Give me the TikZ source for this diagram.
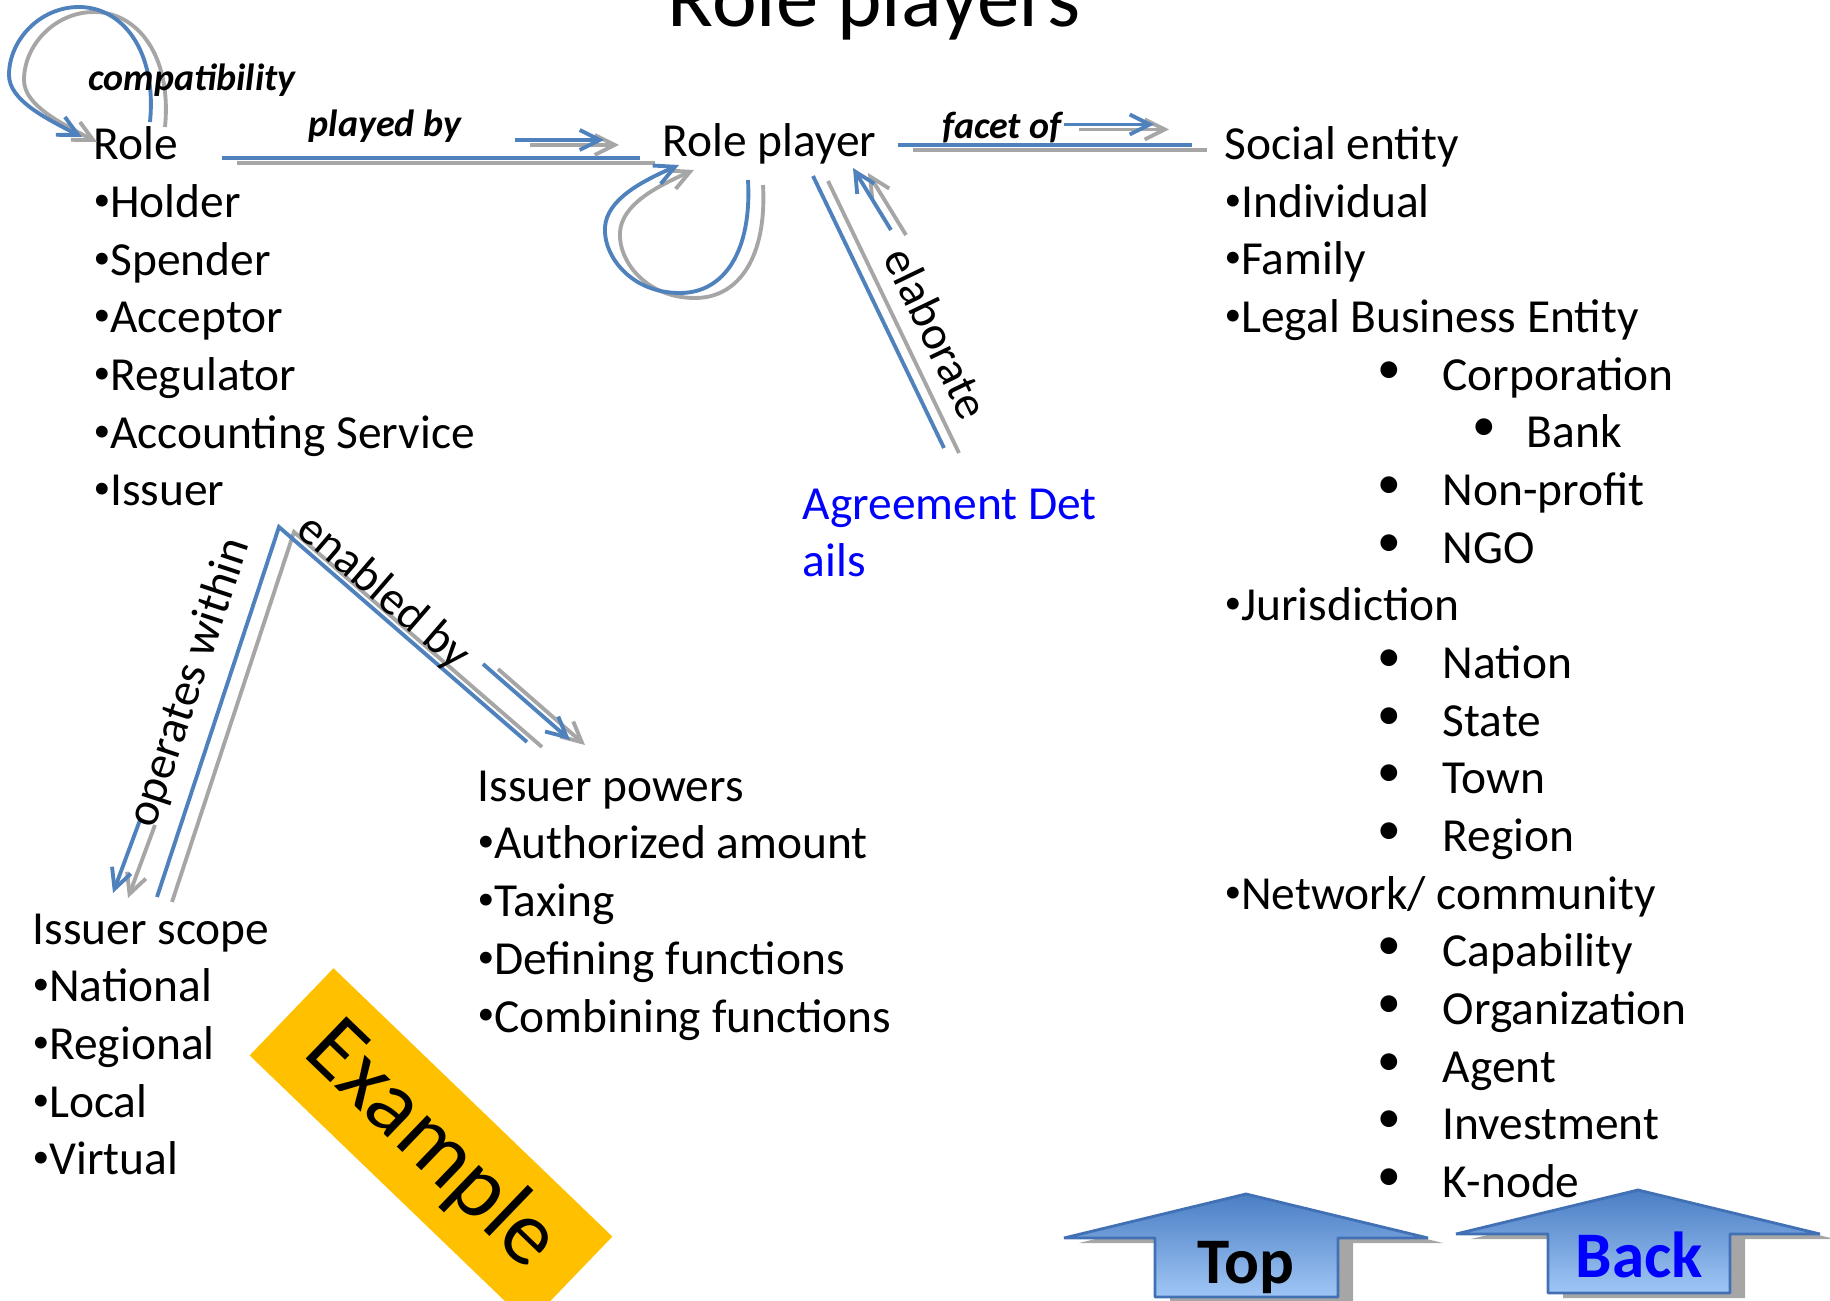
\documentclass[tikz,border=0pt]{standalone}
\usepackage{fontspec}
\setmainfont{Carlito}
\usetikzlibrary{arrows.meta}
\definecolor{linkblue}{RGB}{79,129,189}
\definecolor{shadegray}{RGB}{166,166,166}
\definecolor{hrefblue}{RGB}{0,0,255}
\definecolor{exorange}{RGB}{255,192,0}
\definecolor{btntop}{RGB}{74,126,196}
\definecolor{btnbot}{RGB}{160,198,245}
\definecolor{btnedge}{RGB}{65,113,180}
\tikzset{>={Straight Barb[length=2mm,width=2mm]}}
\tikzset{lst/.style={inner sep=0pt,anchor=base west,align=left,font=\fontsize{13.5}{16.41}\selectfont}}
\tikzset{lbl/.style={inner sep=0pt,font=\fontsize{13.5}{16}\selectfont}}
\tikzset{rel/.style={inner sep=0pt,anchor=base,font=\fontsize{10.8}{13}\selectfont\bfseries\itshape}}
\tikzset{link/.style={draw=linkblue,line width=1.1pt,preaction={draw=shadegray,line width=1.1pt,transform canvas={xshift=1.5mm,yshift=-0.5mm}}}}
\tikzset{btn/.style={inner sep=0pt,anchor=base,font=\fontsize{18.5}{22}\selectfont\bfseries}}
\tikzset{btnshape/.style={draw=btnedge,line width=0.8pt,line join=bevel,top color=btntop,bottom color=btnbot}}
\newcommand{\bul}{\raisebox{2pt}{\fontsize{9.5}{9.5}\selectfont\textbullet}}
\newcommand{\subA}[1]{\hspace*{1.53cm}\makebox[0.65cm][l]{\raisebox{2pt}{\textbullet}}#1}
\newcommand{\subB}[1]{\hspace*{2.48cm}\makebox[0.54cm][l]{\raisebox{2pt}{\textbullet}}#1}

\begin{document}
\begin{tikzpicture}[x=0.1mm,y=-0.1mm]
\useasboundingbox (0,0) rectangle (1830,1301);
\clip (0,0) rectangle (1830,1301);

\node[inner sep=0pt,anchor=base west,font=\fontsize{24.1}{28}\selectfont] (title) at (667,27) {Role players};

% the lists (anchored at the baseline of their last line)
\node[lst] (roles) at (93,506) {Role\\\bul Holder\\\bul Spender\\\bul Acceptor\\\bul Regulator\\\bul Accounting Service\\\bul Issuer};
\node[lst] (player) at (662,157) {Role player};
\node[lst] (social) at (1224,1197.5) {Social entity\\\bul Individual\\\bul Family\\\bul Legal Business Entity\\\subA{Corporation}\\\subB{Bank}\\\subA{Non-profit}\\\subA{NGO}\\\bul Jurisdiction\\\subA{Nation}\\\subA{State}\\\subA{Town}\\\subA{Region}\\\bul Network/ community\\\subA{Capability}\\\subA{Organization}\\\subA{Agent}\\\subA{Investment}\\\subA{K-node}};
\node[lst,text=hrefblue] (agree) at (802,576.8) {Agreement Det\\ails};
\node[lst] (powers) at (477,1032) {Issuer powers\\\bul Authorized amount\\\bul Taxing\\\bul Defining functions\\\bul Combining functions};
\node[lst] (scope) at (32,1174.8) {Issuer scope\\\bul National\\\bul Regional\\\bul Local\\\bul Virtual};

\node[fill=exorange,inner sep=0pt,minimum width=3.87cm,minimum height=1.21cm,rotate=-43.9,font=\fontsize{26}{30}\selectfont] (example) at (431,1146) {Example};

% compatibility loop
\coordinate (compA) at (150,122);
\coordinate (compTop) at (79,7);
\coordinate (compLeft) at (9,75);
\coordinate (compB) at (82,137);
\draw[link,->] (compA) .. controls (157,50) and (122,7) .. (compTop) .. controls (40,7) and (9,40) .. (compLeft) .. controls (9,100) and (45,118) .. (compB);
\node[rel] (compat) at (192,91) {compatibility};

% played by
\coordinate (pbA) at (222,158);
\coordinate (pbB) at (640,158);
\coordinate (pbC) at (515,140);
\coordinate (pbD) at (604,140);
\draw[link] (pbA) -- (pbB);
\draw[link,->] (pbC) -- (pbD);
\node[rel] (playedby) at (385,137) {played by};

% loop under role player
\coordinate (loopA) at (748,180);
\coordinate (loopBot) at (680,293);
\coordinate (loopLeft) at (605,227);
\coordinate (loopB) at (679,165);
\draw[link,->] (loopA) .. controls (752,250) and (725,293) .. (loopBot) .. controls (630,293) and (603,255) .. (loopLeft) .. controls (607,200) and (640,182) .. (loopB);

% facet of
\coordinate (fcA) at (898,145);
\coordinate (fcB) at (1192,145);
\coordinate (fcC) at (1064,124.5);
\coordinate (fcD) at (1154,124.5);
\draw[link] (fcA) -- (fcB);
\draw[link,->] (fcC) -- (fcD);
\node[rel] (facetof) at (1002,139) {facet of};

% elaborate
\coordinate (elA) at (944,448);
\coordinate (elB) at (813,176);
\coordinate (elC) at (891,230);
\coordinate (elD) at (853,168);
\draw[link] (elA) -- (elB);
\draw[link,->] (elC) -- (elD);
\node[lbl,rotate=-64.3] (elab) at (937,333) {elaborate};

% operates within / enabled by
\coordinate (issuertip) at (279,527);
\coordinate (owB) at (157,897);
\coordinate (owC) at (140,820);
\coordinate (owD) at (113,893);
\coordinate (ebB) at (527,742);
\coordinate (ebC) at (483,664);
\coordinate (ebD) at (570,740);
\draw[link] (owB) -- (issuertip) -- (ebB);
\draw[link,->] (owC) -- (owD);
\draw[link,->] (ebC) -- (ebD);
\node[lbl,rotate=71.6] (opwithin) at (190,683) {operates within};
\node[lbl,rotate=-40.8] (enabledby) at (383,593) {enabled by};

% buttons
\fill[shadegray,shift={(15,5)}] (1064,1238) -- (1246,1194) -- (1428,1238) -- (1338,1238) -- (1338,1297) -- (1155,1297) -- (1155,1238) -- cycle;
\draw[btnshape] (1064,1238) -- (1246,1194) -- (1428,1238) -- (1338,1238) -- (1338,1297) -- (1155,1297) -- (1155,1238) -- cycle;
\node[btn] (toplink) at (1246,1283) {Top};

\fill[shadegray,shift={(15,5)}] (1456,1234) -- (1638,1190) -- (1820,1234) -- (1730,1234) -- (1730,1293) -- (1548,1293) -- (1548,1234) -- cycle;
\draw[btnshape] (1456,1234) -- (1638,1190) -- (1820,1234) -- (1730,1234) -- (1730,1293) -- (1548,1293) -- (1548,1234) -- cycle;
\node[btn,text=hrefblue] (backlink) at (1639,1277) {Back};

\end{tikzpicture}
\end{document}
